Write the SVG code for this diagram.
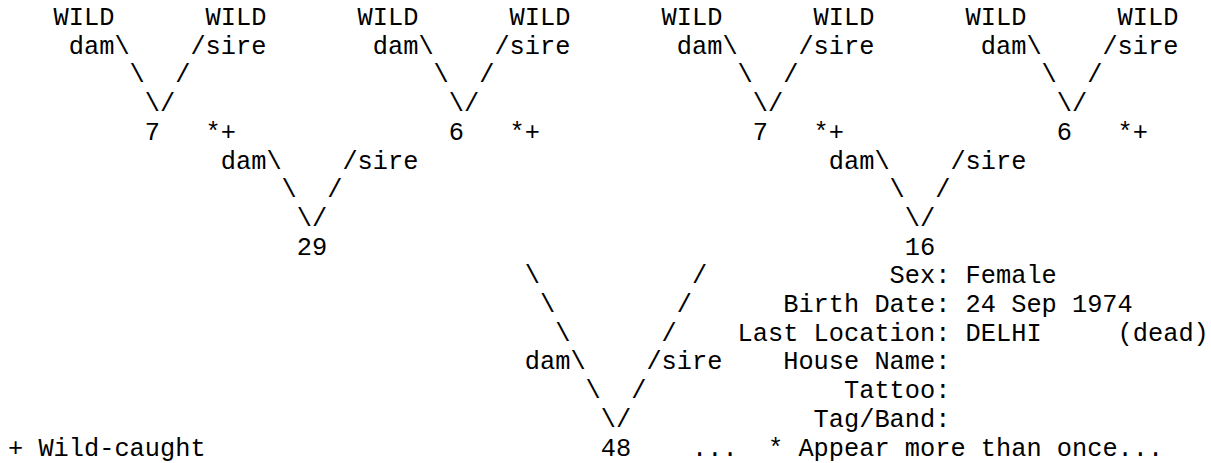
<svg xmlns="http://www.w3.org/2000/svg" width="1211" height="463" viewBox="0 0 1211 463">
<style>
text{font-family:"Courier New","Liberation Mono",monospace;font-size:25.333px;fill:#000;white-space:pre}
</style>
<rect width="1211" height="463" fill="#fff"/>
<g id="wild-nodes">
<g id="wild1"><text x="53.6" y="25">WILD</text></g>
<g id="wild2"><text x="205.6" y="25">WILD</text></g>
<g id="wild3"><text x="357.6" y="25">WILD</text></g>
<g id="wild4"><text x="509.6" y="25">WILD</text></g>
<g id="wild5"><text x="661.6" y="25">WILD</text></g>
<g id="wild6"><text x="813.6" y="25">WILD</text></g>
<g id="wild7"><text x="965.6" y="25">WILD</text></g>
<g id="wild8"><text x="1117.6" y="25">WILD</text></g>
</g>
<g id="node7a"><text x="144.8" y="139.8">7</text><text x="205.6" y="139.8">*+</text></g>
<g id="node6a"><text x="448.8" y="139.8">6</text><text x="509.6" y="139.8">*+</text></g>
<g id="node7b"><text x="752.8" y="139.8">7</text><text x="813.6" y="139.8">*+</text></g>
<g id="node6b"><text x="1056.8" y="139.8">6</text><text x="1117.6" y="139.8">*+</text></g>
<g id="node29"><text x="296.8" y="254.6">29</text></g>
<g id="node16"><text x="904.8" y="254.6">16</text></g>
<g id="node48">
<text x="600.8" y="455.5">48</text>
<text x="889.6" y="283.3">Sex: Female</text>
<text x="783.2" y="312">Birth Date: 24 Sep 1974</text>
<text x="737.6" y="340.7">Last Location: DELHI</text>
<text x="1117.6" y="340.7">(dead)</text>
<text x="783.2" y="369.4">House Name:</text>
<text x="844" y="398.1">Tattoo:</text>
<text x="813.6" y="426.8">Tag/Band:</text>
</g>
<g id="legend">
<text x="8" y="455.5">+ Wild-caught</text>
<text x="692" y="455.5">...</text>
<text x="768" y="455.5">* Appear more than once...</text>
</g>
<g id="connectors">
<text x="68.8" y="53.7">dam\</text><text x="190.4" y="53.7">/sire</text>
<text x="372.8" y="53.7">dam\</text><text x="494.4" y="53.7">/sire</text>
<text x="676.8" y="53.7">dam\</text><text x="798.4" y="53.7">/sire</text>
<text x="980.8" y="53.7">dam\</text><text x="1102.4" y="53.7">/sire</text>
<text x="129.6" y="82.4">\</text><text x="175.2" y="82.4">/</text>
<text x="433.6" y="82.4">\</text><text x="479.2" y="82.4">/</text>
<text x="737.6" y="82.4">\</text><text x="783.2" y="82.4">/</text>
<text x="1041.6" y="82.4">\</text><text x="1087.2" y="82.4">/</text>
<text x="144.8" y="111.1">\/</text>
<text x="448.8" y="111.1">\/</text>
<text x="752.8" y="111.1">\/</text>
<text x="1056.8" y="111.1">\/</text>
<text x="220.8" y="168.5">dam\</text><text x="342.4" y="168.5">/sire</text>
<text x="828.8" y="168.5">dam\</text><text x="950.4" y="168.5">/sire</text>
<text x="281.6" y="197.2">\</text><text x="327.2" y="197.2">/</text>
<text x="889.6" y="197.2">\</text><text x="935.2" y="197.2">/</text>
<text x="296.8" y="225.9">\/</text>
<text x="904.8" y="225.9">\/</text>
<text x="524.8" y="283.3">\</text><text x="692" y="283.3">/</text>
<text x="540" y="312">\</text><text x="676.8" y="312">/</text>
<text x="555.2" y="340.7">\</text><text x="661.6" y="340.7">/</text>
<text x="524.8" y="369.4">dam\</text><text x="646.4" y="369.4">/sire</text>
<text x="585.6" y="398.1">\</text><text x="631.2" y="398.1">/</text>
<text x="600.8" y="426.8">\/</text>
</g>
</svg>
